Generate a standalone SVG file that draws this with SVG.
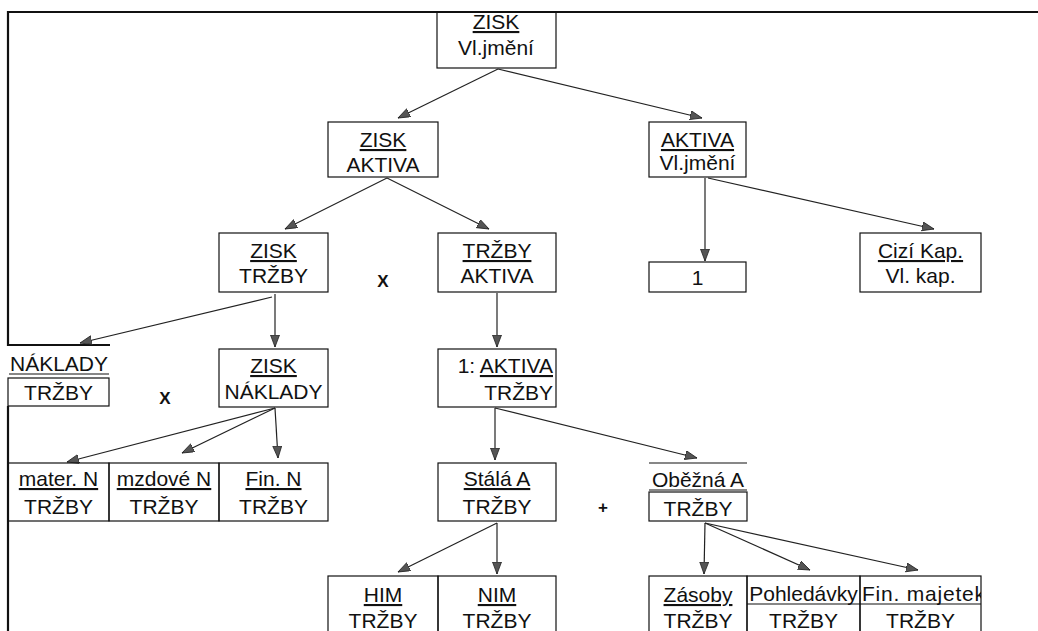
<svg xmlns="http://www.w3.org/2000/svg" width="1038" height="631" viewBox="0 0 1038 631">
<defs>
<marker id="ah" markerUnits="userSpaceOnUse" markerWidth="13" markerHeight="10" refX="12" refY="4.5" orient="auto">
<path d="M0,0 L12,4.5 L0,9 z" fill="#555" stroke="#222" stroke-width="0.8"/>
</marker>
<clipPath id="cfm"><rect x="860" y="576" width="121" height="70"/></clipPath>
<style>
text{font-family:"Liberation Sans",Arial,sans-serif;font-size:21px;fill:#111;text-anchor:middle}
.u{text-decoration:underline}
.op{font-size:17px;font-weight:bold}
.bx,.ln{fill:none;stroke:#111;stroke-width:1.2}
.fr{fill:none;stroke:#111;stroke-width:2.2}
#connectors line{stroke:#222;stroke-width:1.2;marker-end:url(#ah)}
</style>
</defs>
<g id="frame">
<path class="fr" d="M1038,12 H8 V345 H110"/>
<path class="fr" d="M8,406 V631"/>
</g>
<g id="connectors">
<line x1="498" y1="69" x2="398" y2="118"/>
<line x1="498" y1="69" x2="702" y2="118"/>
<line x1="387" y1="178" x2="285" y2="229"/>
<line x1="387" y1="178" x2="489" y2="229"/>
<line x1="705" y1="178" x2="705" y2="261"/>
<line x1="708" y1="178" x2="934" y2="229"/>
<line x1="272" y1="297" x2="80" y2="343"/>
<line x1="275" y1="294" x2="275" y2="347"/>
<line x1="497" y1="293" x2="497" y2="347"/>
<line x1="275" y1="408" x2="67" y2="462"/>
<line x1="275" y1="408" x2="182" y2="453"/>
<line x1="275" y1="408" x2="278" y2="458"/>
<line x1="495" y1="408" x2="495" y2="460"/>
<line x1="495" y1="408" x2="697" y2="458"/>
<line x1="497" y1="523" x2="398" y2="572"/>
<line x1="497" y1="523" x2="497" y2="574"/>
<line x1="705" y1="523" x2="704" y2="574"/>
<line x1="705" y1="523" x2="810" y2="570"/>
<line x1="705" y1="523" x2="918" y2="570"/>
</g>
<g id="n-zisk-vljmeni">
<rect class="bx" x="437" y="12" width="119" height="56"/>
<text x="496" y="29" class="u">ZISK</text>
<text x="496" y="55">Vl.jmění</text>
</g>
<g id="n-zisk-aktiva">
<rect class="bx" x="328" y="122" width="110" height="55"/>
<text x="383" y="147" class="u">ZISK</text>
<text x="383" y="172">AKTIVA</text>
</g>
<g id="n-aktiva-vljmeni">
<rect class="bx" x="649" y="122" width="97" height="55"/>
<text x="697.5" y="147" class="u">AKTIVA</text>
<text x="697.5" y="170">Vl.jmění</text>
</g>
<g id="n-zisk-trzby">
<rect class="bx" x="219" y="233" width="109" height="59"/>
<text x="273.5" y="258" class="u">ZISK</text>
<text x="273.5" y="283">TRŽBY</text>
</g>
<text x="383" y="287" class="op">X</text>
<g id="n-trzby-aktiva">
<rect class="bx" x="438" y="233" width="118" height="59"/>
<text x="497" y="258" class="u">TRŽBY</text>
<text x="497" y="283">AKTIVA</text>
</g>
<g id="n-one">
<rect class="bx" x="649" y="262" width="97" height="30"/>
<text x="697.5" y="285">1</text>
</g>
<g id="n-cizi">
<rect class="bx" x="860" y="233" width="121" height="59"/>
<text x="920.5" y="258" class="u">Cizí Kap.</text>
<text x="920.5" y="283">Vl. kap.</text>
</g>
<g id="n-naklady-trzby">
<text x="59" y="371">NÁKLADY</text>
<line class="ln" x1="9" y1="374" x2="109" y2="374"/>
<rect class="bx" x="8" y="378" width="101" height="28"/>
<text x="58.5" y="400">TRŽBY</text>
</g>
<text x="165" y="404" class="op">X</text>
<g id="n-zisk-naklady">
<rect class="bx" x="219" y="349" width="109" height="58"/>
<text x="273.5" y="373" class="u">ZISK</text>
<text x="273.5" y="399">NÁKLADY</text>
</g>
<g id="n-1-aktiva">
<rect class="bx" x="438" y="349" width="118" height="58"/>
<text x="553" y="373" style="text-anchor:end">1: <tspan class="u">AKTIVA</tspan></text>
<text x="553" y="400" style="text-anchor:end">TRŽBY</text>
</g>
<g id="n-mater">
<rect class="bx" x="8" y="463" width="101" height="58"/>
<text x="58.5" y="486" class="u">mater. N</text>
<text x="58.5" y="514">TRŽBY</text>
</g>
<g id="n-mzdove">
<rect class="bx" x="109" y="463" width="110" height="58"/>
<text x="164" y="486" class="u">mzdové N</text>
<text x="164" y="514">TRŽBY</text>
</g>
<g id="n-fin-n">
<rect class="bx" x="219" y="463" width="109" height="58"/>
<text x="273.5" y="486" class="u">Fin. N</text>
<text x="273.5" y="514">TRŽBY</text>
</g>
<g id="n-stala">
<rect class="bx" x="438" y="463" width="118" height="58"/>
<text x="497" y="486" class="u">Stálá A</text>
<text x="497" y="514">TRŽBY</text>
</g>
<text x="603" y="513" class="op">+</text>
<g id="n-obezna">
<line class="ln" x1="649" y1="463" x2="747" y2="463"/>
<text x="698" y="487">Oběžná A</text>
<line class="ln" x1="649" y1="490" x2="747" y2="490"/>
<rect class="bx" x="649" y="492" width="98" height="29"/>
<text x="698" y="516">TRŽBY</text>
</g>
<g id="n-him">
<rect class="bx" x="328" y="576" width="110" height="70"/>
<text x="383" y="602" class="u">HIM</text>
<text x="383" y="628">TRŽBY</text>
</g>
<g id="n-nim">
<rect class="bx" x="438" y="576" width="118" height="70"/>
<text x="497" y="602" class="u">NIM</text>
<text x="497" y="628">TRŽBY</text>
</g>
<g id="n-zasoby">
<rect class="bx" x="649" y="576" width="98" height="70"/>
<text x="698" y="602" class="u">Zásoby</text>
<text x="698" y="628">TRŽBY</text>
</g>
<g id="n-pohledavky">
<rect class="bx" x="747" y="576" width="113" height="70"/>
<text x="803.5" y="601">Pohledávky</text>
<text x="803.5" y="628">TRŽBY</text>
</g>
<g id="n-fin-majetek">
<rect class="bx" x="860" y="576" width="121" height="70"/>
<text x="862" y="601" style="text-anchor:start" textLength="123" lengthAdjust="spacing" clip-path="url(#cfm)">Fin. majetek</text>
<text x="920.5" y="628">TRŽBY</text>
</g>
<line class="ln" x1="747" y1="604" x2="981" y2="604"/>
</svg>
